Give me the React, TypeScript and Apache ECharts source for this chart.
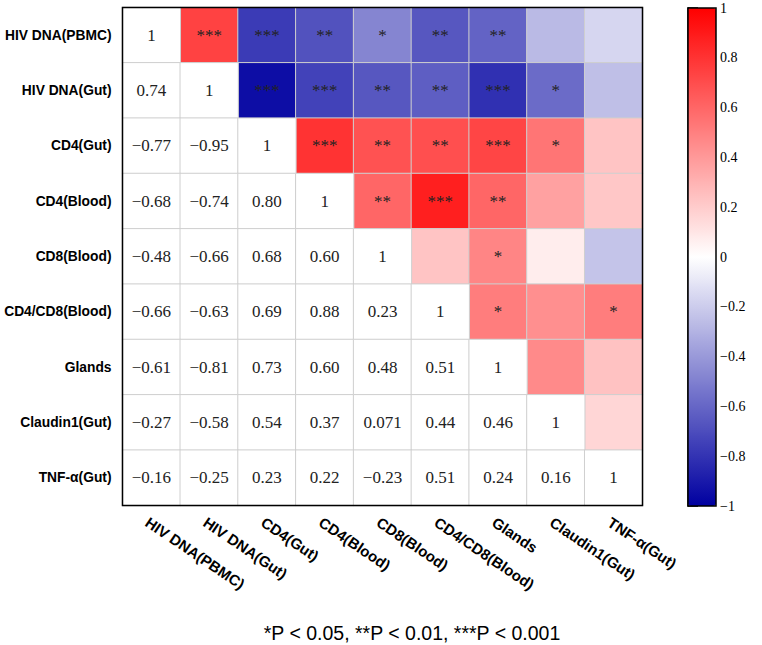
import React, { useEffect, useRef } from 'react';
import * as echarts from 'echarts';

const variables = [
  'HIV DNA(PBMC)',
  'HIV DNA(Gut)',
  'CD4(Gut)',
  'CD4(Blood)',
  'CD8(Blood)',
  'CD4/CD8(Blood)',
  'Glands',
  'Claudin1(Gut)',
  'TNF-α(Gut)',
];

// lower triangle of the correlation matrix (row i, columns 0..i)
const corrRows: number[][] = [
  [1],
  [0.74, 1],
  [-0.77, -0.95, 1],
  [-0.68, -0.74, 0.8, 1],
  [-0.48, -0.66, 0.68, 0.6, 1],
  [-0.66, -0.63, 0.69, 0.88, 0.23, 1],
  [-0.61, -0.81, 0.73, 0.6, 0.48, 0.51, 1],
  [-0.27, -0.58, 0.54, 0.37, 0.071, 0.44, 0.46, 1],
  [-0.16, -0.25, 0.23, 0.22, -0.23, 0.51, 0.24, 0.16, 1],
];

// significance marks of the upper triangle (row i, columns i+1..8)
const sigRows: string[][] = [
  ['***', '***', '**', '*', '**', '**', '', ''],
  ['***', '***', '**', '**', '***', '*', ''],
  ['***', '**', '**', '***', '*', ''],
  ['**', '***', '**', '', ''],
  ['', '*', '', ''],
  ['*', '', '*'],
  ['', ''],
  [''],
  [],
];

const footnote = '*P < 0.05, **P < 0.01, ***P < 0.001';

const corr = (i: number, j: number) => (i >= j ? corrRows[i][j] : corrRows[j][i]);
const fmt = (v: number) => (v === 1 ? '1' : v.toPrecision(2)).replace('-', '\u2212');

export default function App() {
  const ref = useRef<HTMLDivElement>(null);
  useEffect(() => {
    document.body.style.margin = '0';
    const chart = echarts.init(ref.current!, null, { renderer: 'svg' });

    const upper: any[] = [];
    const lower: any[] = [];
    for (let i = 0; i < variables.length; i++) {
      for (let j = 0; j < variables.length; j++) {
        if (j > i) upper.push({ value: [j, i, corr(i, j)], sig: sigRows[i][j - i - 1] });
        else lower.push({ value: [j, i, corr(i, j)] });
      }
    }

    const G = { left: 122.5, top: 7.5, width: 520, height: 498 };
    const C = { left: 688, top: 8, width: 28, height: 498 };

    chart.setOption({
      animation: false,
      backgroundColor: '#ffffff',
      grid: [
        { ...G, containLabel: false },
        { ...C, containLabel: false },
      ],
      xAxis: [
        {
          type: 'category',
          gridIndex: 0,
          data: variables,
          axisLine: { show: false },
          axisTick: { show: false },
          splitLine: { show: false },
          axisLabel: {
            interval: 0,
            rotate: -34,
            verticalAlign: 'top',
            margin: 9,
            fontFamily: 'Liberation Sans, Arial, sans-serif',
            fontWeight: 'bold',
            fontSize: 15,
            color: '#000',
          },
        },
        {
          type: 'value',
          gridIndex: 1,
          show: false,
        },
      ],
      yAxis: [
        {
          type: 'category',
          gridIndex: 0,
          data: variables,
          inverse: true,
          axisLine: { show: false },
          axisTick: { show: false },
          splitLine: { show: false },
          axisLabel: {
            margin: 11,
            fontFamily: 'Liberation Sans, Arial, sans-serif',
            fontWeight: 'bold',
            fontSize: 13.8,
            color: '#000',
          },
        },
        {
          type: 'value',
          gridIndex: 1,
          position: 'right',
          min: -1,
          max: 1,
          interval: 0.2,
          axisLine: { show: true, lineStyle: { color: '#000', width: 1.5 } },
          axisTick: { show: true, length: 10, lineStyle: { color: '#000', width: 1.5 } },
          splitLine: { show: false },
          axisLabel: {
            margin: 4,
            fontFamily: 'Liberation Serif, serif',
            fontSize: 14,
            color: '#000',
            formatter: (v: number) => String(Math.round(v * 10) / 10).replace('-', '\u2212'),
          },
        },
      ],
      visualMap: [
        {
          type: 'continuous',
          seriesIndex: 0,
          min: -1,
          max: 1,
          calculable: false,
          hoverLink: false,
          orient: 'vertical',
          left: C.left,
          top: C.top,
          itemWidth: C.width,
          itemHeight: C.height,
          padding: 0,
          text: null,
          showLabel: false,
          inRange: { color: ['#0000A0', '#ffffff', '#ff0000'] },
        },
        {
          type: 'continuous',
          seriesIndex: 1,
          min: -1,
          max: 1,
          show: false,
          inRange: { color: ['#ffffff', '#ffffff'] },
        },
      ],
      series: [
        {
          type: 'heatmap',
          xAxisIndex: 0,
          yAxisIndex: 0,
          data: upper,
          itemStyle: { borderColor: '#cfcfcf', borderWidth: 1 },
          label: {
            show: true,
            formatter: (p: any) => p.data.sig,
            fontFamily: 'Liberation Serif, serif',
            fontSize: 17,
            color: '#222',
          },
          emphasis: { disabled: true },
        },
        {
          type: 'heatmap',
          xAxisIndex: 0,
          yAxisIndex: 0,
          data: lower,
          itemStyle: { borderColor: '#cfcfcf', borderWidth: 1 },
          label: {
            show: true,
            formatter: (p: any) => fmt(p.data.value[2]),
            fontFamily: 'Liberation Serif, serif',
            fontSize: 17,
            color: '#222',
          },
          emphasis: { disabled: true },
        },
      ],
      graphic: [
        {
          type: 'rect',
          z: 100,
          silent: true,
          shape: { x: G.left, y: G.top, width: G.width, height: G.height },
          style: { fill: 'none', stroke: '#000', lineWidth: 1.5 },
        },
        {
          type: 'rect',
          z: 100,
          silent: true,
          shape: { x: C.left, y: C.top, width: C.width, height: C.height },
          style: { fill: 'none', stroke: '#000', lineWidth: 1.5 },
        },
        {
          type: 'text',
          z: 100,
          x: 412,
          y: 633,
          style: {
            text: footnote,
            align: 'center',
            verticalAlign: 'middle',
            fontFamily: 'Liberation Sans, Arial, sans-serif',
            fontSize: 19.5,
            fill: '#000',
          },
        },
      ],
    });
    return () => chart.dispose();
  }, []);
  return <div ref={ref} style={{ width: 762, height: 645 }} />;
}
